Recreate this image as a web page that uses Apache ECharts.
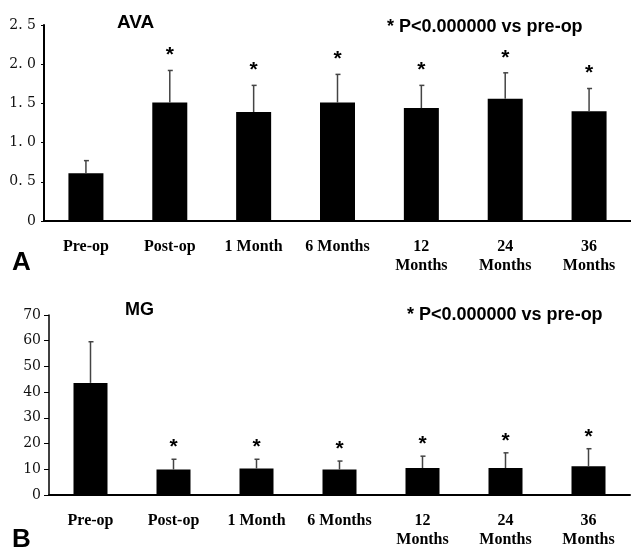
<!DOCTYPE html>
<html>
<head>
<meta charset="utf-8">
<script src="https://cdn.jsdelivr.net/npm/echarts@6/dist/echarts.min.js"></script>
<style>
  html, body { margin: 0; padding: 0; background: #fff; }
  #chart { width: 631px; height: 549px; }
</style>
</head>
<body>
<div id="chart"></div>
<script>
// categories shared by both panels
const categories = ['Pre-op', 'Post-op', '1 Month', '6 Months', '12\nMonths', '24\nMonths', '36\nMonths'];

// panel A: aortic valve area
const avaMean = [0.61, 1.51, 1.39, 1.51, 1.44, 1.56, 1.40];
const avaSD = [0.16, 0.41, 0.34, 0.36, 0.29, 0.33, 0.29];
const avaStar = [0, 1, 1, 1, 1, 1, 1];

// panel B: mean gradient
const mgMean = [43.6, 9.9, 10.3, 9.9, 10.5, 10.5, 11.2];
const mgSD = [16.0, 4.0, 3.6, 3.3, 4.6, 5.9, 6.8];
const mgStar = [0, 1, 1, 1, 1, 1, 1];

const chart = echarts.init(document.getElementById('chart'));

// error bar (upper half only) plus the significance star
function errorBars(starOffset) {
  return function (params, api) {
    const i = api.value(0);
    const m = api.value(1);
    const s = api.value(2);
    const base = api.coord([i, m]);
    const top = api.coord([i, m + s]);
    const children = [
      { type: 'line', shape: { x1: base[0], y1: base[1], x2: top[0], y2: top[1] },
        style: { stroke: '#444', lineWidth: 1.5 } },
      { type: 'line', shape: { x1: top[0] - 2, y1: top[1], x2: top[0] + 3, y2: top[1] },
        style: { stroke: '#444', lineWidth: 1.5 } }
    ];
    if (api.value(3)) {
      children.push({
        type: 'text',
        style: { text: '*', x: top[0], y: top[1] - starOffset, textAlign: 'center',
          textVerticalAlign: 'middle', font: 'bold 21px "Liberation Sans", Arial', fill: '#000' }
      });
    }
    return { type: 'group', children: children };
  };
}

function yLabelA(v) {
  return v === 0 ? '0' : v.toFixed(1).replace('.', '. ');
}

const xLabel = {
  interval: 0, color: '#000', fontFamily: '"Liberation Serif", serif',
  fontWeight: 'bold', fontSize: 16, lineHeight: 19, margin: 16
};
const yLabel = { color: '#111', fontFamily: '"DejaVu Serif", serif', fontSize: 14, margin: 8 };

chart.setOption({
  animation: false,
  backgroundColor: '#fff',
  grid: [
    { left: 44, right: 0, top: 25, bottom: 328 },
    { left: 49, right: 1, top: 315, bottom: 53 }
  ],
  xAxis: [
    { type: 'category', gridIndex: 0, data: categories,
      axisLine: { lineStyle: { color: '#000', width: 2 } },
      axisTick: { inside: true, length: 3, lineStyle: { color: '#000', width: 1.5 } },
      axisLabel: xLabel },
    { type: 'category', gridIndex: 1, data: categories,
      axisLine: { lineStyle: { color: '#000', width: 2 } },
      axisTick: { length: 4, lineStyle: { color: '#000', width: 1.5 } },
      axisLabel: xLabel }
  ],
  yAxis: [
    { type: 'value', gridIndex: 0, min: 0, max: 2.5, interval: 0.5,
      splitLine: { show: false },
      axisLine: { show: true, lineStyle: { color: '#000', width: 2 } },
      axisTick: { show: true, length: 3, lineStyle: { color: '#000' } },
      axisLabel: Object.assign({}, yLabel, { formatter: yLabelA }) },
    { type: 'value', gridIndex: 1, min: 0, max: 70, interval: 10,
      splitLine: { show: false },
      axisLine: { show: true, lineStyle: { color: '#000', width: 1.5 } },
      axisTick: { show: true, length: 5, lineStyle: { color: '#000' } },
      axisLabel: yLabel }
  ],
  series: [
    { type: 'bar', xAxisIndex: 0, yAxisIndex: 0, data: avaMean, barWidth: 35,
      itemStyle: { color: '#000' } },
    { type: 'custom', xAxisIndex: 0, yAxisIndex: 0, z: 5,
      renderItem: errorBars(15), encode: { x: 0, y: 1 },
      data: avaMean.map((m, i) => [i, m, avaSD[i], avaStar[i]]) },
    { type: 'bar', xAxisIndex: 1, yAxisIndex: 1, data: mgMean, barWidth: 34,
      itemStyle: { color: '#000' } },
    { type: 'custom', xAxisIndex: 1, yAxisIndex: 1, z: 5,
      renderItem: errorBars(12), encode: { x: 0, y: 1 },
      data: mgMean.map((m, i) => [i, m, mgSD[i], mgStar[i]]) }
  ],
  graphic: [
    { type: 'text', x: 117, y: 23, style: { text: 'AVA', textVerticalAlign: 'middle',
      font: 'bold 19px "Liberation Sans", Arial', fill: '#000' } },
    { type: 'text', x: 387, y: 27, style: { text: '* P<0.000000 vs pre-op', textVerticalAlign: 'middle',
      font: 'bold 18px "Liberation Sans", Arial', fill: '#000' } },
    { type: 'text', x: 12, y: 263, style: { text: 'A', textVerticalAlign: 'middle',
      font: 'bold 26px "Liberation Sans", Arial', fill: '#000' } },
    { type: 'text', x: 125, y: 310, style: { text: 'MG', textVerticalAlign: 'middle',
      font: 'bold 18px "Liberation Sans", Arial', fill: '#000' } },
    { type: 'text', x: 407, y: 315, style: { text: '* P<0.000000 vs pre-op', textVerticalAlign: 'middle',
      font: 'bold 18px "Liberation Sans", Arial', fill: '#000' } },
    { type: 'text', x: 12, y: 540, style: { text: 'B', textVerticalAlign: 'middle',
      font: 'bold 26px "Liberation Sans", Arial', fill: '#000' } }
  ]
});
</script>
</body>
</html>
